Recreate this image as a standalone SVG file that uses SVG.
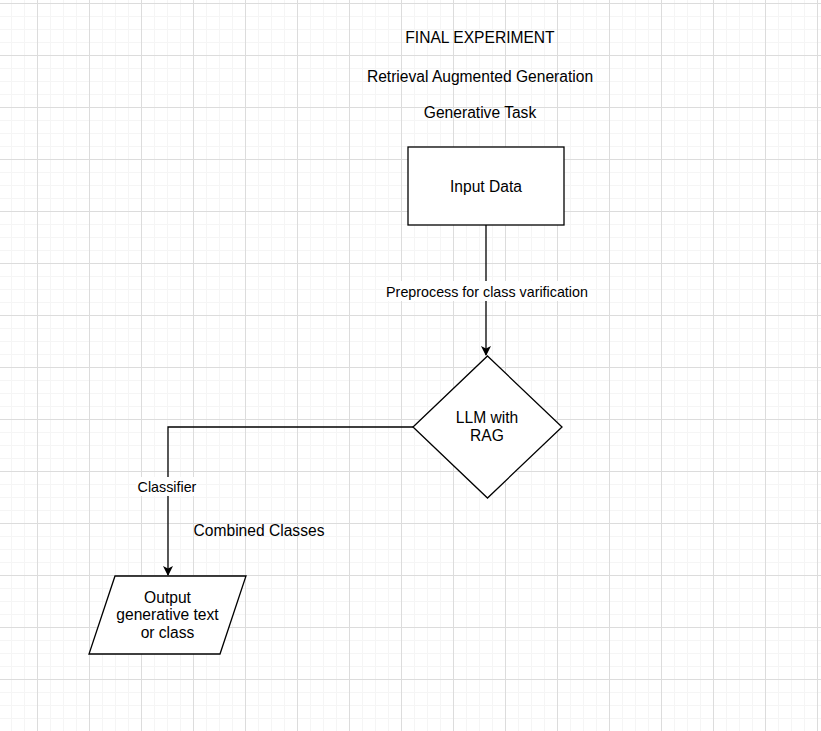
<svg xmlns="http://www.w3.org/2000/svg" width="821" height="731" viewBox="0 0 821 731">
<style>
text{font-family:"Liberation Sans",Arial,sans-serif;fill:#000;text-anchor:middle}
.t{font-size:15.6px}
.e{font-size:14.3px}
.shape{fill:#fff;stroke:#000;stroke-width:1.3}
.conn{fill:none;stroke:#000;stroke-width:1.3}
</style>
<defs>
<pattern id="minor" width="13" height="13" patternUnits="userSpaceOnUse" x="11" y="3">
<path d="M0 0.5H13M0.5 0V13" stroke="#f5f5f5" stroke-width="1" fill="none"/>
</pattern>
<pattern id="major" width="52" height="52" patternUnits="userSpaceOnUse" x="37" y="3">
<path d="M0 0.5H52M0.5 0V52" stroke="#dcdcdc" stroke-width="1" fill="none"/>
</pattern>
<marker id="arr" markerWidth="10" markerHeight="10" refX="9" refY="5" orient="auto" markerUnits="userSpaceOnUse" viewBox="0 0 10 10">
<path d="M0 0L10 5L0 10L2.5 5Z" fill="#000"/>
</marker>
</defs>
<rect width="821" height="731" fill="#fff"/>
<rect width="821" height="731" fill="url(#minor)"/>
<rect width="821" height="731" fill="url(#major)"/>

<g id="titles">
<text class="t" x="480" y="43.3">FINAL EXPERIMENT</text>
<text class="t" x="480" y="81.7">Retrieval Augmented Generation</text>
<text class="t" x="480" y="118">Generative Task</text>
<text class="t" x="259" y="536">Combined Classes</text>
</g>

<g id="connectors">
<path class="conn" d="M486 225V355" marker-end="url(#arr)"/>
<rect x="385" y="281" width="205" height="20" fill="#fff"/>
<text class="e" x="487" y="296.5">Preprocess for class varification</text>
<path class="conn" d="M413 427H168V575" marker-end="url(#arr)"/>
<rect x="136" y="477" width="62" height="19" fill="#fff"/>
<text class="e" x="167" y="491.5">Classifier</text>
</g>

<g id="input-data">
<rect class="shape" x="408" y="147" width="156" height="78"/>
<text class="t" x="486" y="191.7">Input Data</text>
</g>

<g id="llm-rag">
<path class="shape" d="M487.5 356L562 427L487.5 498L413 427Z"/>
<text class="t" x="487" y="423.3">LLM with</text>
<text class="t" x="487" y="441">RAG</text>
</g>

<g id="output">
<path class="shape" d="M115 576H246L220 654H89Z"/>
<text class="t" x="167.5" y="602.7">Output</text>
<text class="t" x="167.5" y="620.2">generative text</text>
<text class="t" x="167.5" y="637.7">or class</text>
</g>
</svg>
